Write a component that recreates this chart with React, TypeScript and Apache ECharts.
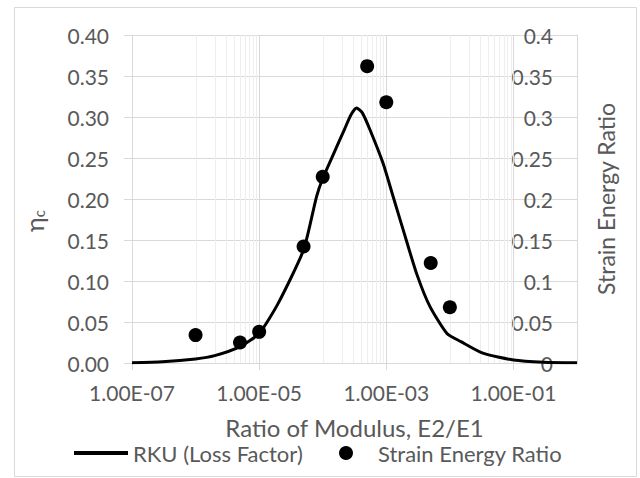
import React, { useEffect, useRef } from 'react';
import * as echarts from 'echarts';

// RKU (Loss Factor) curve
const curveX = [1e-7, 3e-7, 1e-6, 2e-6, 5e-6, 1e-5, 2e-5, 5e-5, 8e-5, 1e-4, 1.5e-4, 2.2e-4, 2.8e-4, 3.4e-4, 4.2e-4, 5.5e-4, 8.9e-4, 1.28e-3, 1.85e-3, 3e-3, 4.85e-3, 9e-3, 1.5e-2, 3.3e-2, 1e-1, 3e-1, 1];
const curveY = [0.0003, 0.0015, 0.005, 0.009, 0.02, 0.036, 0.073, 0.138, 0.203, 0.225, 0.256, 0.285, 0.303, 0.311, 0.305, 0.285, 0.2435, 0.203, 0.162, 0.109, 0.069, 0.036, 0.026, 0.012, 0.0037, 0.001, 0.0003];

// Strain Energy Ratio points
const serX = [1e-6, 5e-6, 1e-5, 5e-5, 1e-4, 5e-4, 1e-3, 5e-3, 1e-2];
const serY = [0.034, 0.025, 0.038, 0.142, 0.227, 0.362, 0.318, 0.122, 0.068];

// x-axis ticks / labels
const xTickValues = [1e-7, 1e-5, 1e-3, 1e-1];
const xTickLabels = ['1.00E-07', '1.00E-05', '1.00E-03', '1.00E-01'];

// vertical grid lines
const majorGridX = [1e-5, 1e-3, 1e-1];
const minorGridX = [
  1e-6, 2e-6, 3e-6, 4e-6, 5e-6, 6e-6, 7e-6, 8e-6, 9e-6,
  1e-4, 2e-4, 3e-4, 4e-4, 5e-4, 6e-4, 7e-4, 8e-4, 9e-4,
  1e-2, 2e-2, 3e-2, 4e-2, 5e-2, 6e-2, 7e-2, 8e-2, 9e-2,
];

const FONT = 'Lato, "Noto Sans", sans-serif';
const TEXT = '#595959';
const GRID = '#d9d9d9';
const MINOR = '#eeeeee';

function gridSeries(values: number[], color: string, z: number) {
  return {
    type: 'custom',
    silent: true,
    z,
    data: values.map((v) => [v, 0]),
    encode: { x: 0, y: 1 },
    renderItem: (_params: any, api: any) => {
      const x = api.value(0);
      const p0 = api.coord([x, 0]);
      const p1 = api.coord([x, 0.4]);
      const px = Math.round(p0[0]) + 0.5;
      return {
        type: 'line',
        shape: { x1: px, y1: p0[1], x2: px, y2: p1[1] },
        style: { stroke: color, lineWidth: 1 },
        silent: true,
      };
    },
  };
}

export default function App() {
  const ref = useRef<HTMLDivElement>(null);
  useEffect(() => {
    if (!ref.current) return;
    const chart = echarts.init(ref.current, undefined, { renderer: 'svg' });
    const xLabel = (v: number) => {
      for (let i = 0; i < xTickValues.length; i++) {
        if (Math.abs(Math.log10(v) - Math.log10(xTickValues[i])) < 1e-6) return xTickLabels[i];
      }
      return '';
    };
    chart.setOption({
      animation: false,
      textStyle: { fontFamily: FONT },
      grid: { left: 132, right: 63, top: 35, bottom: 115, containLabel: false },
      graphic: [
        {
          type: 'rect',
          silent: true,
          shape: { x: 14.5, y: 7.5, width: 622, height: 469 },
          style: { fill: 'none', stroke: GRID, lineWidth: 1 },
        },
      ],
      legend: [
        {
          data: [{ name: 'RKU (Loss Factor)', icon: 'rect', itemStyle: { color: '#000' } }],
          left: 74,
          top: 442,
          padding: 0,
          itemWidth: 54,
          itemHeight: 4,
          itemGap: 0,
          textStyle: { color: TEXT, fontSize: 22, fontFamily: FONT, lineHeight: 22 },
        },
        {
          data: [{ name: 'Strain Energy Ratio', icon: 'circle', itemStyle: { color: '#000', opacity: 1 } }],
          left: 339,
          top: 442,
          padding: 0,
          itemWidth: 54,
          itemHeight: 14,
          itemGap: 0,
          textStyle: { color: TEXT, fontSize: 22, fontFamily: FONT, lineHeight: 22 },
        },
      ],
      xAxis: {
        type: 'log',
        logBase: 10,
        min: 1e-7,
        max: 1,
        name: 'Ratio of Modulus, E2/E1',
        nameLocation: 'middle',
        nameGap: 52,
        nameTextStyle: { color: TEXT, fontSize: 24, fontFamily: FONT },
        axisLine: { show: true, lineStyle: { color: GRID, width: 1 } },
        axisTick: { show: true, customValues: xTickValues, length: 7, lineStyle: { color: GRID } },
        axisLabel: {
          customValues: xTickValues,
          formatter: xLabel,
          color: TEXT,
          fontSize: 21,
          fontFamily: FONT,
          margin: 19,
        },
        splitLine: { show: false },
        minorTick: { show: false },
        minorSplitLine: { show: false },
      },
      yAxis: [
        {
          type: 'value',
          position: 'left',
          min: 0,
          max: 0.4,
          interval: 0.05,
          name: '{a|η}{b|c}',
          nameLocation: 'middle',
          nameGap: 86,
          nameTextStyle: {
            color: TEXT,
            fontFamily: FONT,
            padding: [0, 44, 0, 0],
            rich: {
              a: { fontSize: 25, color: TEXT, fontFamily: FONT },
              b: { fontSize: 15, color: TEXT, fontFamily: FONT, verticalAlign: 'bottom' },
            },
          },
          axisLine: { show: true, lineStyle: { color: GRID, width: 1 } },
          axisTick: { show: true, length: 8, lineStyle: { color: GRID } },
          axisLabel: {
            color: TEXT,
            fontSize: 21,
            fontFamily: FONT,
            margin: 23,
            formatter: (v: number) => v.toFixed(2),
          },
          splitLine: { show: true, lineStyle: { color: GRID, width: 1 } },
        },
        {
          type: 'value',
          position: 'right',
          min: 0,
          max: 0.4,
          interval: 0.05,
          name: 'Strain Energy Ratio',
          nameLocation: 'middle',
          nameGap: 17,
          nameTextStyle: { color: TEXT, fontSize: 23, fontFamily: FONT },
          axisLine: { show: true, lineStyle: { color: GRID, width: 1 } },
          axisTick: { show: false },
          axisLabel: {
            inside: true,
            color: TEXT,
            fontSize: 21,
            fontFamily: FONT,
            margin: 24,
          },
          splitLine: { show: false },
        },
      ],
      series: [
        gridSeries(minorGridX, MINOR, 0),
        gridSeries(majorGridX, GRID, 1),
        {
          type: 'line',
          name: 'RKU (Loss Factor)',
          data: curveX.map((x, i) => [x, curveY[i]]),
          showSymbol: false,
          symbol: 'none',
          smooth: 0.2,
          z: 3,
          lineStyle: { color: '#000', width: 3 },
          itemStyle: { color: '#000' },
        },
        {
          type: 'scatter',
          name: 'Strain Energy Ratio',
          yAxisIndex: 1,
          data: serX.map((x, i) => [x, serY[i]]),
          symbol: 'circle',
          symbolSize: 14,
          z: 4,
          itemStyle: { color: '#000', opacity: 1 },
        },
      ],
    });
    return () => chart.dispose();
  }, []);
  return (
    <div
      ref={ref}
      style={{ position: 'absolute', left: 0, top: 0, width: 640, height: 478, background: '#fff' }}
    />
  );
}
